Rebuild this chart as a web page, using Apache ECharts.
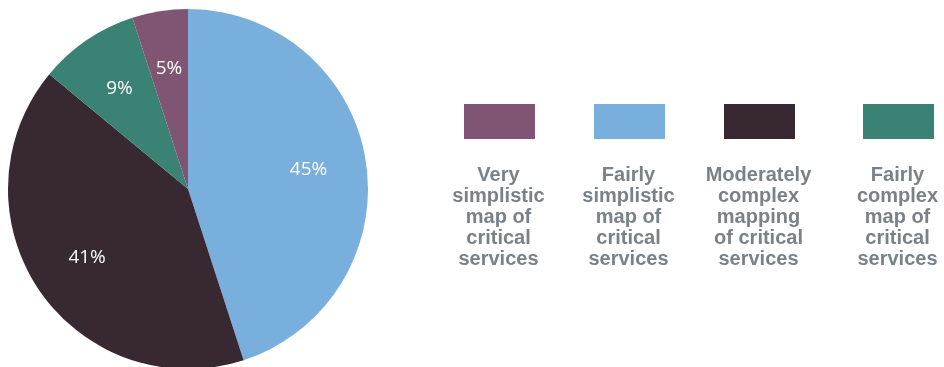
<!DOCTYPE html>
<html>
<head>
<meta charset="utf-8">
<style>
  html, body { margin: 0; padding: 0; background: #ffffff; }
  #chart { width: 944px; height: 367px; }
</style>
<script src="https://cdn.jsdelivr.net/npm/echarts@6/dist/echarts.min.js"></script>
</head>
<body>
<div id="chart"></div>
<script>
// Share of respondents by how completely they have mapped critical services
const categories = [
  'Very simplistic map of critical services',
  'Fairly simplistic map of critical services',
  'Moderately complex mapping of critical services',
  'Fairly complex map of critical services'
];
const legendLabels = [
  'Very\nsimplistic\nmap of\ncritical\nservices',
  'Fairly\nsimplistic\nmap of\ncritical\nservices',
  'Moderately\ncomplex\nmapping\nof critical\nservices',
  'Fairly\ncomplex\nmap of\ncritical\nservices'
];
const shares = [5, 45, 41, 9];
const colors = ['#805573', '#79afdc', '#372832', '#3a8374'];

// Slices run clockwise from 12 o'clock in this order
const sliceOrder = [1, 2, 3, 0];

const pieData = sliceOrder.map(i => ({
  name: categories[i],
  value: shares[i],
  itemStyle: { color: colors[i] }
}));

const center = [188, 189];
const outerR = 180;

// Legend swatches with stacked captions beneath them
const legendCenters = [499.5, 629.5, 759.5, 898.5];
const swatchW = 71, swatchH = 35, swatchTop = 104, captionTop = 165;
const graphics = [];
categories.forEach((c, i) => {
  graphics.push({
    type: 'rect',
    shape: { x: legendCenters[i] - swatchW / 2, y: swatchTop, width: swatchW, height: swatchH },
    style: { fill: colors[i] },
    silent: true
  });
  graphics.push({
    type: 'text',
    x: legendCenters[i] - 1,
    y: captionTop,
    style: {
      text: legendLabels[i],
      fill: '#7a8288',
      font: 'bold 20px "Liberation Sans", Arial, sans-serif',
      lineHeight: 21,
      align: 'center',
      verticalAlign: 'top'
    },
    silent: true
  });
});

const chart = echarts.init(document.getElementById('chart'), null, { renderer: 'canvas' });
chart.setOption({
  animation: false,
  backgroundColor: '#ffffff',
  series: [
    {
      type: 'pie',
      center: center,
      radius: [0, outerR],
      startAngle: 90,
      clockwise: true,
      silent: true,
      label: { show: false },
      labelLine: { show: false },
      data: pieData
    },
    {
      // transparent ring used only to place the percentage labels
      type: 'pie',
      center: center,
      radius: [58, outerR],
      startAngle: 90,
      clockwise: true,
      silent: true,
      itemStyle: { color: 'rgba(0,0,0,0)' },
      label: {
        show: true,
        position: 'inside',
        formatter: p => p.value + '%',
        color: '#ffffff',
        fontFamily: '"Open Sans", sans-serif',
        fontSize: 19,
        fontWeight: 'normal'
      },
      labelLine: { show: false },
      data: pieData.map(d => ({ name: d.name, value: d.value, itemStyle: { color: 'rgba(0,0,0,0)' } }))
    }
  ],
  graphic: graphics
});
</script>
</body>
</html>
